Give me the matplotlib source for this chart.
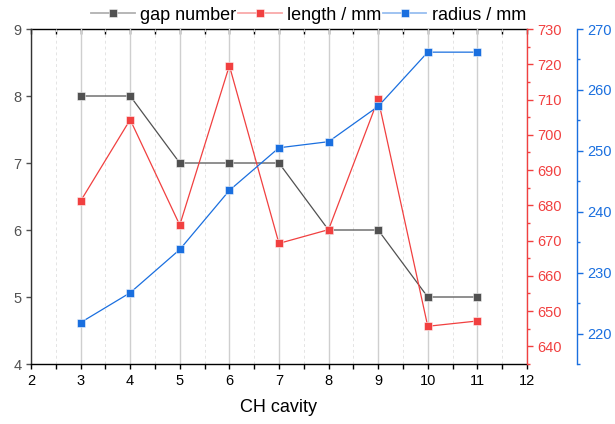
import matplotlib
matplotlib.use('Agg')
import matplotlib.pyplot as plt
from matplotlib.lines import Line2D
from matplotlib.ticker import MultipleLocator

plt.rcParams['font.family'] = ['Liberation Sans', 'DejaVu Sans']

cavity = [3, 4, 5, 6, 7, 8, 9, 10, 11]
gap_number = [8, 8, 7, 7, 7, 6, 6, 5, 5]
length_mm = [681.2, 704.3, 674.4, 719.6, 669.2, 673.1, 710.1, 645.7, 647.2]
radius_mm = [221.8, 226.7, 233.8, 243.5, 250.5, 251.5, 257.3, 266.2, 266.2]

c_gray = '#515151'
c_red = '#F14040'
c_blue = '#1A6FDF'

fig = plt.figure(figsize=(6.15, 4.24), dpi=100)
ax1 = fig.add_axes([0.0504, 0.1415, 0.8064, 0.7901])
ax2 = ax1.twinx()
ax3 = ax1.twinx()

mk = dict(marker='s', markersize=6, markeredgecolor=(1, 1, 1, 0.6), markeredgewidth=0.6, lw=0.9)
ax1.plot(cavity, gap_number, color=c_gray, zorder=3, **mk)
ax2.plot(cavity, length_mm, color=c_red, zorder=3, **mk)
ax3.plot(cavity, radius_mm, color=c_blue, zorder=3, **mk)

# x axis
ax1.set_xlim(2, 12)
ax1.xaxis.set_major_locator(MultipleLocator(1))
ax1.xaxis.set_minor_locator(MultipleLocator(0.5))
ax1.grid(True, which='major', axis='x', color='#cfcfcf', lw=1.0)
ax1.grid(True, which='minor', axis='x', color='#e4e4e4', lw=0.7, ls=(0, (3, 3)))
ax1.set_axisbelow(True)
ax1.tick_params(axis='x', which='both', direction='out', length=3.5, width=1,
                labelsize=10.5, colors='black')
ax1.set_xlabel('CH cavity', fontsize=13, labelpad=8)

# top ticks pointing inward
top = ax1.secondary_xaxis('top')
top.xaxis.set_major_locator(MultipleLocator(1))
top.xaxis.set_minor_locator(MultipleLocator(0.5))
top.tick_params(axis='x', which='both', direction='in', length=3.5, width=1,
                labeltop=False, colors='black')
top.spines['top'].set_color('black')
top.spines['top'].set_linewidth(1.0)

# left axis
ax1.set_ylim(4, 9)
ax1.yaxis.set_major_locator(MultipleLocator(1))
ax1.tick_params(axis='y', which='major', direction='out', length=3.5, width=1,
                labelsize=10.5, colors=c_gray)
ax1.spines['left'].set_color('#333333')
ax1.spines['bottom'].set_color('black')
ax1.spines['top'].set_visible(False)
ax1.spines['right'].set_visible(False)
for sp in ax1.spines.values():
    sp.set_linewidth(1.0)

# red axis
ax2.set_ylim(635, 730)
ax2.yaxis.set_major_locator(MultipleLocator(10))
ax2.yaxis.set_minor_locator(MultipleLocator(5))
ax2.tick_params(axis='y', which='major', direction='out', length=4, width=1,
                labelsize=10.5, colors=c_red)
ax2.tick_params(axis='y', which='minor', direction='out', length=2.5, width=1, colors=c_red)
ax2.spines['right'].set_color(c_red)
ax2.spines['right'].set_linewidth(1.0)
for s in ['left', 'top', 'bottom']:
    ax2.spines[s].set_visible(False)

# blue axis
ax3.set_ylim(215, 270)
ax3.yaxis.set_major_locator(MultipleLocator(10))
ax3.yaxis.set_minor_locator(MultipleLocator(5))
ax3.spines['right'].set_position(('axes', 1.101))
ax3.spines['right'].set_color(c_blue)
ax3.spines['right'].set_linewidth(1.0)
for s in ['left', 'top', 'bottom']:
    ax3.spines[s].set_visible(False)
ax3.tick_params(axis='y', which='major', direction='out', length=4, width=1,
                labelsize=10.5, colors=c_blue)
ax3.tick_params(axis='y', which='minor', direction='out', length=2.5, width=1, colors=c_blue)

# legend
def handle(c):
    r, g, b = matplotlib.colors.to_rgb(c)
    return Line2D([], [], color=(r, g, b, 0.45), lw=1.3, marker='s', markersize=6,
                  markerfacecolor=c, markeredgecolor=(1, 1, 1, 0.6), markeredgewidth=0.6)

labels = ['gap number', 'length / mm', 'radius / mm']
fig.legend([handle(c_gray), handle(c_red), handle(c_blue)], labels,
           loc='center', bbox_to_anchor=(0.502, 0.964), ncol=3, frameon=False,
           fontsize=13, handlelength=2.4, handletextpad=0.3, columnspacing=0.1,
           borderaxespad=0, borderpad=0)

fig.savefig('out.png', dpi=100)
